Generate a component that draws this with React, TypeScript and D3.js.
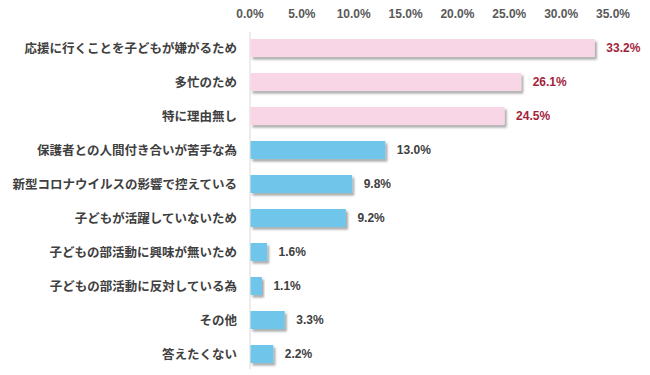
import React from "react";
import * as d3 from "d3";

const categories = [
  "応援に行くことを子どもが嫌がるため",
  "多忙のため",
  "特に理由無し",
  "保護者との人間付き合いが苦手な為",
  "新型コロナウイルスの影響で控えている",
  "子どもが活躍していないため",
  "子どもの部活動に興味が無いため",
  "子どもの部活動に反対している為",
  "その他",
  "答えたくない",
];
const values = [33.2, 26.1, 24.5, 13.0, 9.8, 9.2, 1.6, 1.1, 3.3, 2.2];
const highlighted = [true, true, true, false, false, false, false, false, false, false];
const ticks = [0, 5, 10, 15, 20, 25, 30, 35];

const W = 650;
const H = 375;

export default function App() {
  const x = d3.scaleLinear().domain([0, 35]).range([250, 613]);
  const y = d3
    .scaleBand<string>()
    .domain(categories)
    .range([31, 371])
    .paddingInner(0.47)
    .paddingOuter(0.235);
  const bw = y.bandwidth();
  const font = "'Liberation Sans', Arial, sans-serif";
  const jp = "'Noto Sans CJK JP', sans-serif";
  return (
    <svg
      width={W}
      height={H}
      style={{ position: "absolute", left: 0, top: 0, background: "#fff" }}
    >
      <defs>
        <filter id="sh" x="-10%" y="-30%" width="130%" height="180%">
          <feDropShadow dx="2" dy="2.5" stdDeviation="1.2" floodColor="#000" floodOpacity="0.35" />
        </filter>
      </defs>
      {ticks.map((t) => (
        <text
          key={t}
          x={x(t)}
          y={18}
          textAnchor="middle"
          fontFamily={font}
          fontWeight="bold"
          fontSize={12}
          fill="#595959"
        >
          {t.toFixed(1) + "%"}
        </text>
      ))}
      <line x1={x(0)} x2={x(0)} y1={32} y2={369} stroke="#d9d9d9" strokeWidth={1} />
      {categories.map((c, i) => {
        const yy = y(c)!;
        const hi = highlighted[i];
        return (
          <g key={c}>
            <rect
              x={x(0) + 0.5}
              y={yy}
              width={x(values[i]) - x(0)}
              height={bw}
              fill={hi ? "#f9d6e6" : "#6fc6ea"}
              filter="url(#sh)"
            />
            <text
              x={237}
              y={yy + bw / 2}
              dy="0.36em"
              textAnchor="end"
              fontFamily={jp}
              fontWeight="bold"
              fontSize={12.5}
              fill="#404040"
            >
              {c}
            </text>
            <text
              x={x(values[i]) + 12}
              y={yy + bw / 2}
              dy="0.36em"
              fontFamily={font}
              fontWeight="bold"
              fontSize={12}
              fill={hi ? "#a21f3c" : "#404040"}
            >
              {values[i].toFixed(1) + "%"}
            </text>
          </g>
        );
      })}
    </svg>
  );
}
